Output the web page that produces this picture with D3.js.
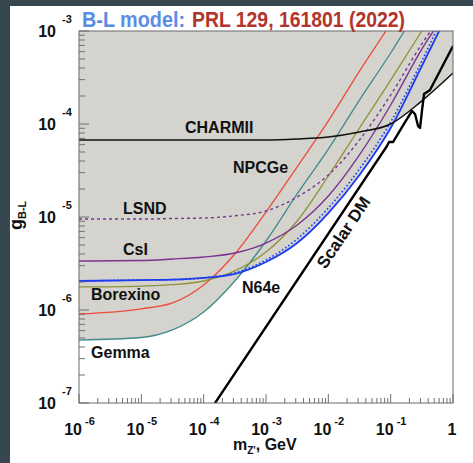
<!DOCTYPE html>
<html><head><meta charset="utf-8">
<script src="https://cdn.jsdelivr.net/npm/d3@7"></script>
<style>
html,body{margin:0;padding:0;background:#fff;}
svg{display:block;}
text{font-family:"Liberation Sans",Arial,Helvetica,sans-serif;font-weight:bold;}
</style></head><body>
<svg id="c" width="473" height="463"></svg>
<script>
// ---------- data ----------
const mGrid = [1e-6, 1e-5, 3.16e-5, 1e-4, 3.16e-4, 1e-3, 3.16e-3, 1e-2, 3.16e-2, 0.1, 0.316, 1];
const npcgeG   = [9.06e-7, 1.03e-6, 1.19e-6, 1.86e-6, 4.0e-6, 1.13e-5, 3.45e-5, 1.08e-4, 3.7e-4, 1.19e-3];
const gemmaG   = [4.75e-7, 5.06e-7, 6.1e-7, 9.5e-7, 2.05e-6, 5.52e-6, 1.77e-5, 5.38e-5, 1.81e-4, 5.8e-4, 2.05e-3];
const borexG   = [1.77e-6, 1.81e-6, 1.87e-6, 2.05e-6, 2.63e-6, 4.2e-6, 9.05e-6, 2.76e-5, 9.06e-5, 2.97e-4, 1.0e-3, 3.45e-3];
const n64eG    = [2.05e-6, 2.1e-6, 2.12e-6, 2.21e-6, 2.44e-6, 3.28e-6, 5.25e-6, 1.10e-5, 2.83e-5, 9.06e-5, 4.2e-4, 2.0e-3];
const n64eDotG = [2.05e-6, 2.1e-6, 2.12e-6, 2.21e-6, 2.5e-6, 3.45e-6, 5.8e-6, 1.25e-5, 3.28e-5, 1.05e-4, 4.75e-4, 2.5e-3];
const csiG     = [3.36e-6, 3.4e-6, 3.53e-6, 3.71e-6, 4.1e-6, 5.25e-6, 8.2e-6, 1.68e-5, 4.65e-5, 1.6e-4, 6.4e-4, 2.0e-3];
const lsndG    = [9.5e-6, 9.5e-6, 9.64e-6, 9.75e-6, 1.03e-5, 1.16e-5, 1.64e-5, 2.83e-5, 6.73e-5, 2.05e-4, 7.25e-4, 2.15e-3];
const charmG   = [6.73e-5, 6.73e-5, 6.73e-5, 6.73e-5, 6.73e-5, 6.73e-5, 6.9e-5, 7.25e-5, 8.2e-5, 1.0e-4, 1.77e-4, 3.53e-4];
const scalarM  = [1e-4, 0.0873, 0.0942, 0.109, 0.170, 0.220, 0.246, 0.275, 0.296, 0.319, 0.343, 0.383, 0.428, 1];
const scalarG  = [6.56e-8, 5.8e-5, 6.4e-5, 6.4e-5, 1.05e-4, 1.38e-4, 1.28e-4, 9.5e-5, 9.06e-5, 1.42e-4, 2.1e-4, 2.21e-4, 2.32e-4, 6.9e-4];
const xMajor = [1e-6, 1e-5, 1e-4, 1e-3, 1e-2, 1e-1, 1];
const yMajor = [1e-7, 1e-6, 1e-5, 1e-4, 1e-3];
const xExpLabels = ["-6", "-5", "-4", "-3", "-2", "-1", ""];
const yExpLabels = ["-7", "-6", "-5", "-4", "-3"];
const labelNames = ["CHARMII", "NPCGe", "LSND", "CsI", "Borexino", "N64e", "Gemma"];
const labelM = [5.02e-5, 2.96e-4, 5.08e-6, 5.08e-6, 1.56e-6, 4.12e-4, 1.56e-6];
const labelG = [8.0e-5, 2.97e-5, 1.08e-5, 3.9e-6, 1.28e-6, 1.52e-6, 3.05e-7];
const scalarLabelM = 9.0e-3, scalarLabelG = 2.71e-6;

// ---------- layout ----------
const W = 473, H = 463;
const L = 79, R = 453, T = 31, B = 403;
const svg = d3.select("#c");
svg.append("rect").attr("x",0).attr("y",0).attr("width",W).attr("height",H).attr("fill","#37474f");
svg.append("rect").attr("x",10).attr("y",6).attr("width",W-10).attr("height",H-6).attr("fill","#ffffff");

const x = d3.scaleLog().domain([1e-6, 1]).range([L, R]);
const y = d3.scaleLog().domain([1e-7, 1e-3]).range([B, T]);

svg.append("defs").append("clipPath").attr("id","clip")
  .append("rect").attr("x",L).attr("y",T).attr("width",R-L).attr("height",B-T);
const plot = svg.append("g").attr("clip-path","url(#clip)");

const curves = [
  {g: gemmaG,   color: "#3d8c8a", w: 1.3, dash: null},
  {g: npcgeG,   color: "#ee4b3c", w: 1.3, dash: null},
  {g: borexG,   color: "#8f9138", w: 1.3, dash: null},
  {g: csiG,     color: "#7a3591", w: 1.4, dash: null},
  {g: lsndG,    color: "#7a3591", w: 1.4, dash: "3,3"},
  {g: n64eDotG, color: "#1c3cf0", w: 1.6, dash: "1.6,2.2"},
  {g: n64eG,    color: "#1c3cf0", w: 1.8, dash: null},
  {g: charmG,   color: "#111111", w: 1.5, dash: null}
];
const toPts = g => g.map((v,i) => [mGrid[i], v]);

// shaded excluded region: union of areas above every bound
const area = d3.area().x(d => x(d[0])).y0(y(1e-3)).y1(d => y(d[1])).curve(d3.curveMonotoneX);
curves.forEach(c => {
  plot.append("path").attr("d", area(toPts(c.g))).attr("fill","#d4d3cd").attr("stroke","none");
});

const line = d3.line().x(d => x(d[0])).y(d => y(d[1])).curve(d3.curveMonotoneX);
curves.forEach(c => {
  plot.append("path").attr("d", line(toPts(c.g))).attr("fill","none")
    .attr("stroke", c.color).attr("stroke-width", c.w)
    .attr("stroke-dasharray", c.dash);
});

// Scalar DM line
const sline = d3.line().x(d => x(d[0])).y(d => y(d[1]));
plot.append("path").attr("d", sline(scalarM.map((m,i)=>[m, scalarG[i]])))
  .attr("fill","none").attr("stroke","#000").attr("stroke-width",2.4).attr("stroke-linejoin","round");

// ---------- axes ----------
const tickCol = "#707070";
const xTicks = x.ticks();
const yTicks = y.ticks();
const isMajor = v => Math.abs(Math.log10(v) - Math.round(Math.log10(v))) < 1e-6;
const ax = svg.append("g");
xTicks.forEach(v => {
  const len = isMajor(v) ? 9 : 5;
  ax.append("line").attr("x1", x(v)).attr("x2", x(v)).attr("y1", B).attr("y2", B - len)
    .attr("stroke", tickCol).attr("stroke-width", 1);
});
yTicks.forEach(v => {
  const len = isMajor(v) ? 10 : 6;
  ax.append("line").attr("x1", L).attr("x2", L + len).attr("y1", y(v)).attr("y2", y(v))
    .attr("stroke", tickCol).attr("stroke-width", 1);
});
ax.append("rect").attr("x",L).attr("y",T).attr("width",R-L).attr("height",B-T)
  .attr("fill","none").attr("stroke","#6a6a6a").attr("stroke-width",1);

// tick labels
xMajor.forEach((v,i) => {
  const px = x(v);
  if (xExpLabels[i] === "") {
    ax.append("text").attr("x", px - 1).attr("y", 435).attr("text-anchor","middle")
      .attr("font-size", 16).attr("fill","#111").text("1");
  } else {
    ax.append("text").attr("x", px + 3).attr("y", 435).attr("text-anchor","end")
      .attr("font-size", 16).attr("fill","#111").text("10");
    ax.append("text").attr("x", px + 6).attr("y", 425).attr("text-anchor","start")
      .attr("font-size", 11).attr("fill","#111").text(xExpLabels[i]);
  }
});
yMajor.forEach((v,i) => {
  const py = y(v);
  ax.append("text").attr("x", 56).attr("y", py + 6).attr("text-anchor","end")
    .attr("font-size", 16).attr("fill","#111").text("10");
  ax.append("text").attr("x", 62).attr("y", py - 8).attr("text-anchor","start")
    .attr("font-size", 11).attr("fill","#111").text(yExpLabels[i]);
});

// axis titles
const xt = svg.append("text").attr("x", 233).attr("y", 450).attr("font-size", 16).attr("fill","#111");
xt.append("tspan").text("m");
xt.append("tspan").attr("font-size", 10).attr("dy", 4).text("Z'");
xt.append("tspan").attr("dy", -4).text(", GeV");

const yt = svg.append("text").attr("transform","translate(22,230) rotate(-90)")
  .attr("font-size", 18).attr("fill","#111");
yt.append("tspan").text("g");
yt.append("tspan").attr("font-size", 11).attr("dy", 4).text("B-L");

// curve labels
labelNames.forEach((n,i) => {
  svg.append("text").attr("x", x(labelM[i])).attr("y", y(labelG[i]))
    .attr("font-size", 16).attr("fill","#111").text(n);
});
// Scalar DM label rotated along its line
const ang = Math.atan2(y(scalarG[1]) - y(scalarG[0]), x(scalarM[1]) - x(scalarM[0])) * 180 / Math.PI;
const sx = x(scalarLabelM), sy = y(scalarLabelG);
svg.append("text").attr("transform", `translate(${sx},${sy}) rotate(${ang})`)
  .attr("font-size", 17).attr("fill","#111").text("Scalar DM");

// title
const tf = '"Liberation Sans Narrow","DejaVu Sans Condensed","Roboto",sans-serif';
svg.append("text").attr("x", 82).attr("y", 27).attr("font-size", 22)
  .attr("font-family", tf).attr("fill","#5b8de6")
  .attr("textLength", 103).attr("lengthAdjust","spacingAndGlyphs").text("B-L model:");
svg.append("text").attr("x", 192).attr("y", 27).attr("font-size", 22)
  .attr("font-family", tf).attr("fill","#b2342a")
  .attr("textLength", 213).attr("lengthAdjust","spacingAndGlyphs").text("PRL 129, 161801 (2022)");
</script>
</body></html>
